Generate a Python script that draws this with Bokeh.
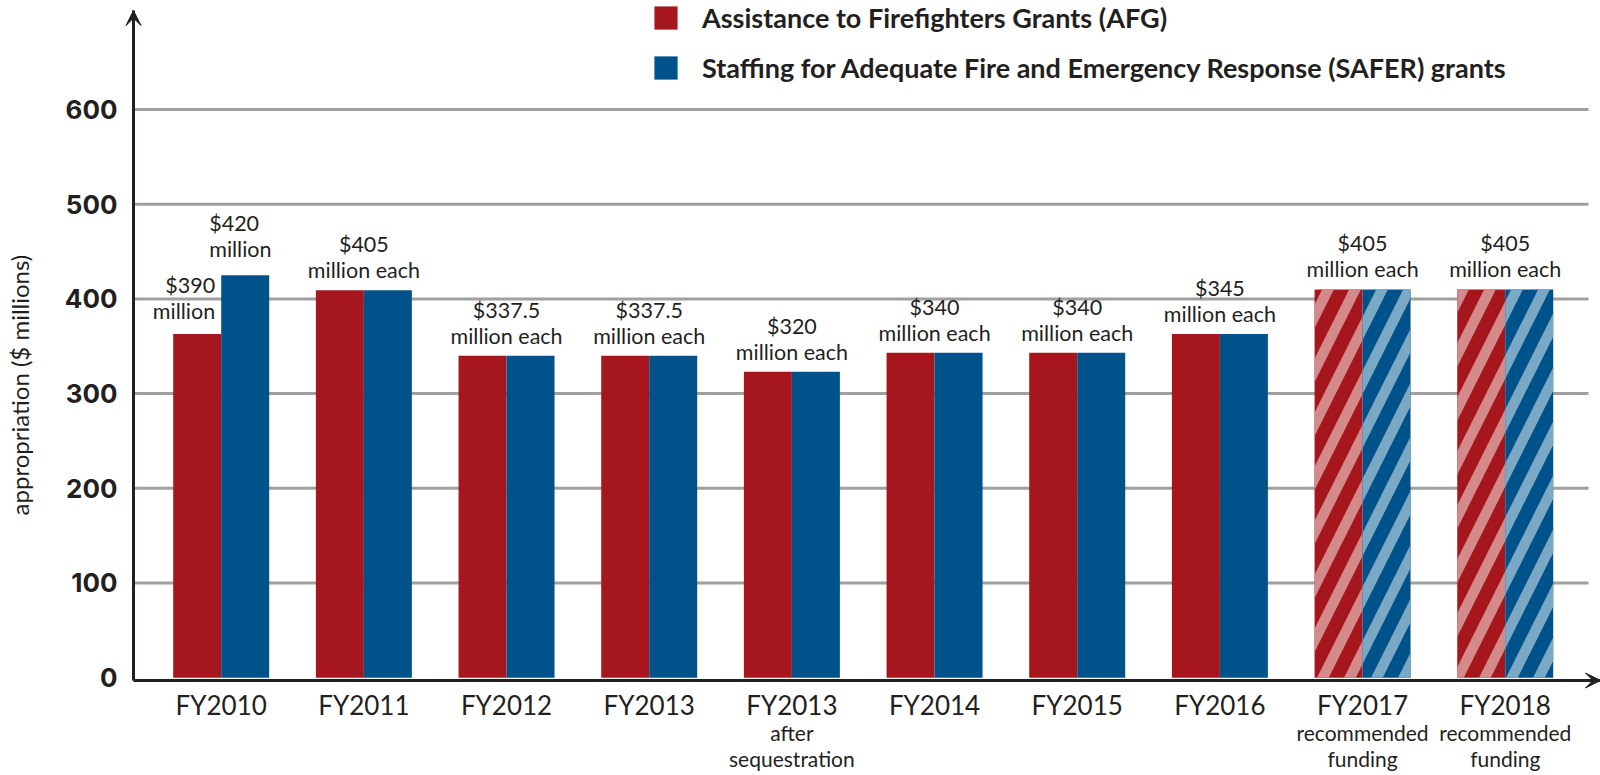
import math
from bokeh.plotting import figure
from bokeh.models import (Range1d, FixedTicker, Legend, LegendItem, LinearAxis, Label,
                          Arrow, VeeHead, ColumnDataSource)
from bokeh.core.properties import value
from bokeh.embed import file_html
from bokeh.resources import INLINE

# ---------------- data ----------------
years = ["FY2010", "FY2011", "FY2012", "FY2013", "FY2013", "FY2014",
         "FY2015", "FY2016", "FY2017", "FY2018"]
year_notes = ["", "", "", "", "after\nsequestration", "", "", "",
              "recommended\nfunding", "recommended\nfunding"]
afg = [363, 409, 340, 340, 323, 343, 343, 363, 410, 410]
safer = [425, 409, 340, 340, 323, 343, 343, 363, 410, 410]
recommended = [False, False, False, False, False, False, False, False, True, True]
value_labels = ["", "$405\nmillion each", "$337.5\nmillion each", "$337.5\nmillion each",
                "$320\nmillion each", "$340\nmillion each", "$340\nmillion each",
                "$345\nmillion each", "$405\nmillion each", "$405\nmillion each"]
afg_first_label = "$390\nmillion"
safer_first_label = "$420\nmillion"
y_ticks = [0, 100, 200, 300, 400, 500, 600]
series_names = ["Assistance to Firefighters Grants (AFG)",
                "Staffing for Adequate Fire and Emergency Response (SAFER) grants"]
y_title = "appropriation ($ millions)"

# ---------------- style ----------------
RED = "#a6171d"
BLUE = "#00528a"
RED_LIGHT = "#d4898b"
BLUE_LIGHT = "#7ba8c5"
INK = "#231f20"
GRID = "#a0a0a2"
FONT = "Lato"

# the frame fills the whole figure; axes are drawn at fixed locations
X0, X1 = -1.5469, 9.6677
X_AX = -0.6147          # where the y axis line sits
X_GRID_END = 9.5836
Y0, Y1 = -103.3, 715.1
Y_AX = -2.96            # where the x axis line sits
Y_TIP = 704.5
BAR_W = 0.3364

p = figure(width=1600, height=775, output_backend="svg", toolbar_location=None,
           x_range=Range1d(X0, X1), y_range=Range1d(Y0, Y1),
           min_border_left=0, min_border_right=0, min_border_top=0, min_border_bottom=0,
           outline_line_color=None, background_fill_color="white", border_fill_color="white")

idx = list(range(len(years)))
solid = [i for i in idx if not recommended[i]]
hatched = [i for i in idx if recommended[i]]

# horizontal grid lines, starting at the y axis
grid_y = y_ticks[1:]
p.segment(x0=[X_AX] * len(grid_y), y0=grid_y, x1=[X_GRID_END] * len(grid_y), y1=grid_y,
          line_color=GRID, line_width=3)

src_solid = ColumnDataSource(dict(
    xa=[i - BAR_W / 2 for i in solid], xs=[i + BAR_W / 2 for i in solid],
    a=[afg[i] for i in solid], s=[safer[i] for i in solid]))
src_hatch = ColumnDataSource(dict(
    xa=[i - BAR_W / 2 for i in hatched], xs=[i + BAR_W / 2 for i in hatched],
    a=[afg[i] for i in hatched], s=[safer[i] for i in hatched]))

r_afg = p.vbar(x="xa", top="a", bottom=0, width=BAR_W, source=src_solid,
               fill_color=RED, line_color=None)
r_safer = p.vbar(x="xs", top="s", bottom=0, width=BAR_W, source=src_solid,
                 fill_color=BLUE, line_color=None)
p.vbar(x="xa", top="a", bottom=0, width=BAR_W, source=src_hatch,
       fill_color=RED, line_color=None, hatch_pattern="/", hatch_color=RED_LIGHT,
       hatch_weight=10.5, hatch_scale=54)
p.vbar(x="xs", top="s", bottom=0, width=BAR_W, source=src_hatch,
       fill_color=BLUE, line_color=None, hatch_pattern="/", hatch_color=BLUE_LIGHT,
       hatch_weight=10.5, hatch_scale=54)

# value labels above bars
lab_idx = [i for i in idx if value_labels[i]]
src_lab = ColumnDataSource(dict(
    x=lab_idx, y=[max(afg[i], safer[i]) for i in lab_idx],
    t=[value_labels[i] for i in lab_idx]))
txt = dict(text_font=value(FONT), text_font_size="21.5px", text_line_height=1.0,
           text_color=INK, text_baseline="bottom")
p.text(x="x", y="y", text="t", source=src_lab, text_align="center", y_offset=-7, **txt)
p.text(x=[0], y=[afg[0]], text=[afg_first_label], text_align="right",
       x_offset=-6, y_offset=-10, **txt)
p.text(x=[0], y=[safer[0]], text=[safer_first_label], text_align="left",
       x_offset=-12, y_offset=-13.5, **txt)

# ---------------- axes ----------------
xax = p.xaxis[0]
xax.ticker = FixedTicker(ticks=idx)
xax.major_label_overrides = {i: years[i] for i in idx}
xax.major_tick_line_color = None
xax.minor_tick_line_color = None
xax.axis_line_color = INK
xax.axis_line_width = 3
xax.fixed_location = Y_AX
xax.bounds = (X_AX, X1)
xax.major_label_text_font = FONT
xax.major_label_text_font_size = "26px"
xax.major_label_text_color = INK
xax.major_label_standoff = 3

# two further rows of tick labels carry the notes under some years
note_lines = [n.split("\n") if n else [] for n in year_notes]
for k, stand in ((0, 34), (1, 60)):
    ax = LinearAxis(ticker=FixedTicker(ticks=idx),
                    major_label_overrides={i: (note_lines[i][k] if len(note_lines[i]) > k else "")
                                           for i in idx},
                    fixed_location=Y_AX,
                    axis_line_color=None, major_tick_line_color=None,
                    minor_tick_line_color=None, major_label_standoff=stand,
                    major_label_text_font=FONT, major_label_text_font_size="21px",
                    major_label_text_color=INK)
    p.add_layout(ax, "below")

yax = p.yaxis[0]
yax.ticker = FixedTicker(ticks=y_ticks)
yax.major_tick_line_color = None
yax.minor_tick_line_color = None
yax.axis_line_color = INK
yax.axis_line_width = 3
yax.fixed_location = X_AX
yax.bounds = (Y_AX, Y_TIP)
yax.major_label_text_font = "Inter"
yax.major_label_text_font_style = "bold"
yax.major_label_text_font_size = "26px"
yax.major_label_text_color = INK
yax.major_label_standoff = 10

p.xgrid.visible = False
p.ygrid.visible = False

p.add_layout(Label(x=-1.4137, y=309, text=y_title, angle=math.pi / 2, text_align="center",
                   text_baseline="middle", text_font=FONT, text_font_size="24px",
                   text_color=INK))

# arrow heads on the axes
p.add_layout(Arrow(end=VeeHead(size=15, fill_color=INK, line_color=INK, line_width=1),
                   x_start=X_AX, y_start=Y_TIP - 20, x_end=X_AX, y_end=Y_TIP,
                   line_color=INK, line_width=3))
p.add_layout(Arrow(end=VeeHead(size=15, fill_color=INK, line_color=INK, line_width=1),
                   x_start=X1 - 0.15, y_start=Y_AX, x_end=X1, y_end=Y_AX,
                   line_color=INK, line_width=3))

legend = Legend(items=[LegendItem(label=series_names[0], renderers=[r_afg]),
                       LegendItem(label=series_names[1], renderers=[r_safer])],
                location=(651, 691), orientation="vertical",
                glyph_width=29, glyph_height=29, label_height=29, spacing=17,
                padding=0, margin=0, label_standoff=22,
                border_line_color=None, background_fill_alpha=0,
                label_text_font=FONT, label_text_font_style="bold",
                label_text_font_size="27px", label_text_color=INK,
                label_text_baseline="middle")
p.add_layout(legend)

open("out.html", "w").write(file_html(p, INLINE))
